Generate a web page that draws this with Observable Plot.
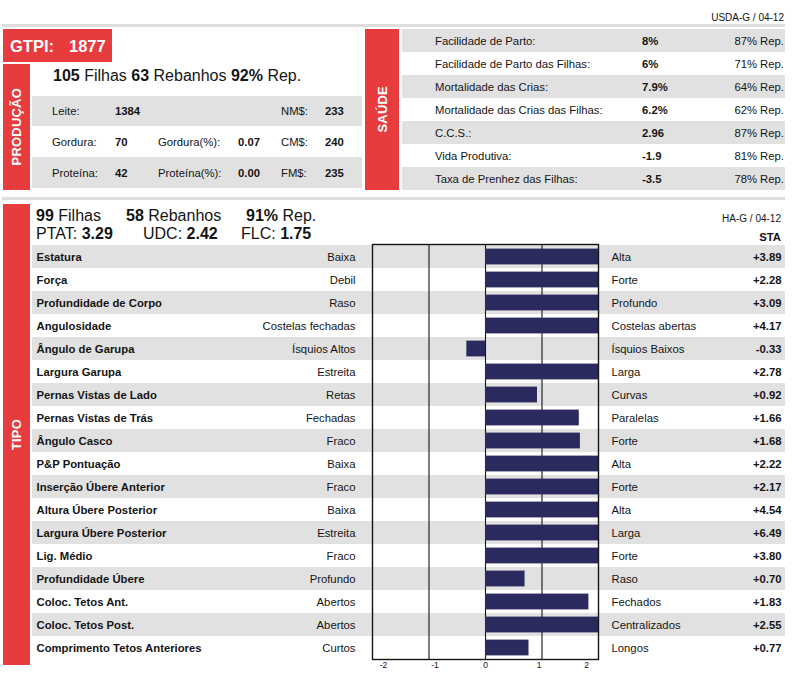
<!DOCTYPE html>
<html>
<head>
<meta charset="utf-8">
<script src="https://cdn.jsdelivr.net/npm/d3@7"></script>
<script src="https://cdn.jsdelivr.net/npm/@observablehq/plot@0.6"></script>
<style>
  body { margin: 0; background: #fff; font-family: "Liberation Sans", Arial, Helvetica, sans-serif; color: #151515; }
  #root { position: relative; width: 793px; height: 673px; overflow: hidden; background: #fff; }
  .abs { position: absolute; white-space: nowrap; }
  .vert { position: absolute; display: flex; align-items: center; justify-content: center; color: #fff; font-weight: bold; font-size: 13px; }
  .vert span { writing-mode: vertical-rl; transform: rotate(180deg); letter-spacing: 0.2px; }
</style>
</head>
<body>
<div id="root"></div>
<script>
// ---------------- DATA ----------------
const sourceTop = "USDA-G / 04-12";
const sourceTipo = "HA-G / 04-12";
const gtpiLabel = "GTPI:";
const gtpiValue = "1877";

const prodSummaryNumbers = ["105", "63", "92%"];
const prodSummaryWords = ["Filhas", "Rebanhos", "Rep."];
const prodCol1Labels = ["Leite:", "Gordura:", "Proteína:"];
const prodCol1Values = ["1384", "70", "42"];
const prodCol2Labels = ["", "Gordura(%):", "Proteína(%):"];
const prodCol2Values = ["", "0.07", "0.00"];
const prodCol3Labels = ["NM$:", "CM$:", "FM$:"];
const prodCol3Values = ["233", "240", "235"];

const saudeLabels = ["Facilidade de Parto:", "Facilidade de Parto das Filhas:", "Mortalidade das Crias:",
  "Mortalidade das Crias das Filhas:", "C.C.S.:", "Vida Produtiva:", "Taxa de Prenhez das Filhas:"];
const saudeValues = ["8%", "6%", "7.9%", "6.2%", "2.96", "-1.9", "-3.5"];
const saudeRep = ["87% Rep.", "71% Rep.", "64% Rep.", "62% Rep.", "87% Rep.", "81% Rep.", "78% Rep."];

const tipoSummaryNumbers = ["99", "58", "91%"];
const tipoSummaryWords = ["Filhas", "Rebanhos", "Rep."];
const tipoIndexLabels = ["PTAT:", "UDC:", "FLC:"];
const tipoIndexValues = ["3.29", "2.42", "1.75"];

const traits = ["Estatura", "Força", "Profundidade de Corpo", "Angulosidade", "Ângulo de Garupa",
  "Largura Garupa", "Pernas Vistas de Lado", "Pernas Vistas de Trás", "Ângulo Casco", "P&P Pontuação",
  "Inserção Úbere Anterior", "Altura Úbere Posterior", "Largura Úbere Posterior", "Lig. Médio",
  "Profundidade Úbere", "Coloc. Tetos Ant.", "Coloc. Tetos Post.", "Comprimento Tetos Anteriores"];
const lowLabels = ["Baixa", "Debil", "Raso", "Costelas fechadas", "Ísquios Altos", "Estreita", "Retas",
  "Fechadas", "Fraco", "Baixa", "Fraco", "Baixa", "Estreita", "Fraco", "Profundo", "Abertos", "Abertos", "Curtos"];
const highLabels = ["Alta", "Forte", "Profundo", "Costelas abertas", "Ísquios Baixos", "Larga", "Curvas",
  "Paralelas", "Forte", "Alta", "Forte", "Alta", "Larga", "Forte", "Raso", "Fechados", "Centralizados", "Longos"];
const staValues = [3.89, 2.28, 3.09, 4.17, -0.33, 2.78, 0.92, 1.66, 1.68, 2.22, 2.17, 4.54, 6.49, 3.80,
  0.70, 1.83, 2.55, 0.77];
const xTicks = [-2, -1, 0, 1, 2];

// ---------------- STYLE ----------------
const RED = "#e73b3e";
const GRAY = "#e1e1e1";
const NAVY = "#2b2a5e";
const LINE = "#dedede";
const tickNudge = [11, 6, 0, -3, -12]; // label offsets as drawn in the reference

const root = document.getElementById("root");
function box(x, y, w, h, color) {
  const d = document.createElement("div");
  d.className = "abs";
  Object.assign(d.style, {left: x + "px", top: y + "px", width: w + "px", height: h + "px", background: color});
  root.appendChild(d);
  return d;
}
function put(html, x, cy, {size = 11.3, weight = "normal", align = "left", color = "#151515"} = {}) {
  const d = document.createElement("div");
  d.className = "abs";
  Object.assign(d.style, {left: x + "px", top: (cy - 10) + "px", height: "20px", lineHeight: "20px",
    fontSize: size + "px", fontWeight: weight, color});
  if (align === "right") d.style.transform = "translateX(-100%)";
  d.innerHTML = html;
  root.appendChild(d);
  return d;
}
function vbox(x, y, w, h, label) {
  const d = box(x, y, w, h, RED);
  d.className = "vert";
  d.innerHTML = "<span>" + label + "</span>";
  return d;
}

// ---------------- TOP ----------------
put(sourceTop, 784, 18, {size: 10, align: "right"});
box(2, 24, 783, 2.5, LINE);

box(3, 29, 109, 33, RED);
put(gtpiLabel, 10, 46, {size: 16.5, weight: "bold", color: "#fff"});
put(gtpiValue, 69, 46, {size: 16.5, weight: "bold", color: "#fff"});

vbox(3, 64, 27, 126, "PRODUÇÃO");
put(prodSummaryNumbers.map((n, i) => "<b>" + n + "</b> " + prodSummaryWords[i]).join(" "), 53, 75.5, {size: 16});

const prodRowY = [96, 126.5, 157];
const prodRowH = [30, 30.5, 31];
prodRowY.forEach((y, i) => {
  if (i % 2 === 0) box(32, y, 330, prodRowH[i], GRAY);
  const cy = y + prodRowH[i] / 2;
  put(prodCol1Labels[i], 52, cy);
  put(prodCol1Values[i], 115, cy, {weight: "bold"});
  put(prodCol2Labels[i], 158, cy);
  put(prodCol2Values[i], 238, cy, {weight: "bold"});
  put(prodCol3Labels[i], 281, cy);
  put(prodCol3Values[i], 325, cy, {weight: "bold"});
});

vbox(365, 29, 34, 161, "SAÚDE");
saudeLabels.forEach((lab, i) => {
  const y = 29 + i * 23;
  if (i % 2 === 0) box(402, y, 383, 23, GRAY);
  const cy = y + 11.5;
  put(lab, 435, cy);
  put(saudeValues[i], 642, cy, {weight: "bold"});
  put(saudeRep[i], 784, cy, {align: "right"});
});

box(2, 197, 783, 2.5, LINE);

// ---------------- TIPO ----------------
vbox(3, 204, 27, 461, "TIPO");
const sumX = [36, 126, 246];
tipoSummaryNumbers.forEach((n, i) => put("<b>" + n + "</b> " + tipoSummaryWords[i], sumX[i], 216, {size: 16}));
const idxX = [36, 143, 241];
tipoIndexLabels.forEach((l, i) => put(l + " <b>" + tipoIndexValues[i] + "</b>", idxX[i], 234, {size: 16}));
put(sourceTipo, 781, 218.5, {size: 10, align: "right"});
put("STA", 781, 237, {size: 11.3, weight: "bold", align: "right"});

const rows = traits.map((t, i) => ({trait: t, low: lowLabels[i], high: highLabels[i], sta: staValues[i], i}));

const chart = Plot.plot({
  width: 757,
  height: 429,
  marginLeft: 340,
  marginRight: 191,
  marginTop: 0,
  marginBottom: 14,
  style: {fontFamily: "'Liberation Sans', Arial, Helvetica, sans-serif", fontSize: "11.3px", color: "#151515", background: "transparent", overflow: "visible"},
  x: {domain: [-2, 2], clamp: true, axis: null},
  y: {domain: traits, padding: 0, axis: null},
  marks: [
    Plot.cell(rows.filter(d => d.i % 2 === 0), {y: "trait", fill: GRAY, insetLeft: -340, insetRight: -187}),
    Plot.ruleX([-1, 0, 1], {stroke: "#151515", strokeWidth: 1.1}),
    Plot.barX(rows, {y: "trait", x: "sta", fill: NAVY, insetTop: 3.6, insetBottom: 3.6}),
    Plot.frame({stroke: "#151515", strokeWidth: 1.4}),
    Plot.text(rows, {y: "trait", text: "trait", frameAnchor: "left", textAnchor: "start", dx: -336, fontWeight: "bold", fill: "#151515"}),
    Plot.text(rows, {y: "trait", text: "low", frameAnchor: "left", textAnchor: "end", dx: -17, fill: "#151515"}),
    Plot.text(rows, {y: "trait", text: "high", frameAnchor: "right", textAnchor: "start", dx: 13, fill: "#151515"}),
    Plot.text(rows, {y: "trait", text: d => (d.sta >= 0 ? "+" : "") + d.sta.toFixed(2), frameAnchor: "right", textAnchor: "end", dx: 183, fontWeight: "bold", fill: "#151515"}),
    ...xTicks.map((t, i) => Plot.text([t], {x: d => d, text: d => String(d), frameAnchor: "bottom", dy: 8, dx: tickNudge[i], fontSize: 8.5, fill: "#151515"}))
  ]
});
const holder = document.createElement("div");
holder.className = "abs";
Object.assign(holder.style, {left: "32px", top: "244px"});
holder.appendChild(chart);
root.appendChild(holder);
</script>
</body>
</html>
